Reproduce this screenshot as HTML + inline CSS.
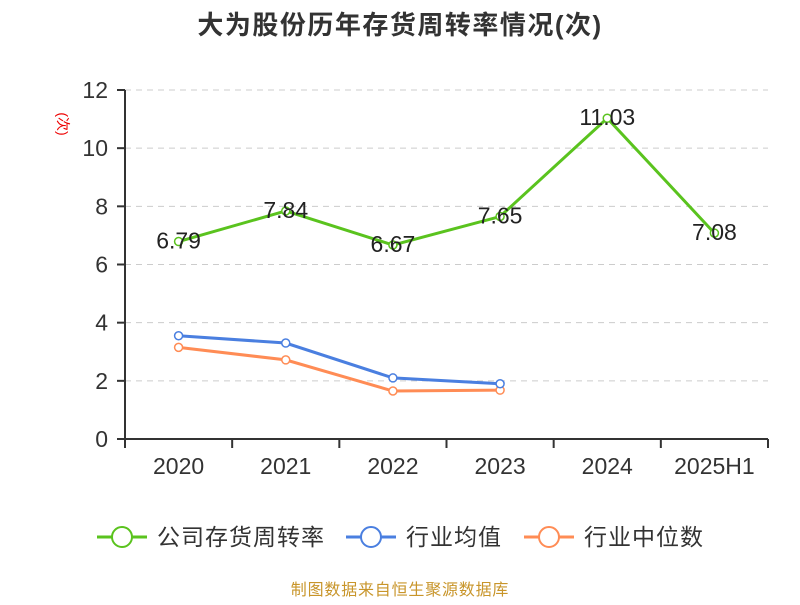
<!DOCTYPE html>
<html><head><meta charset="utf-8"><style>
body{margin:0;background:#fff;}
svg text{font-family:"Liberation Sans","Noto Sans CJK SC",sans-serif;}
</style></head><body>
<svg width="800" height="600" xmlns="http://www.w3.org/2000/svg" id="chart">
<text x="400" y="34" text-anchor="middle" font-size="26" font-weight="bold" letter-spacing="1.5" fill="#333">大为股份历年存货周转率情况(次)</text>
<text transform="translate(58,124) rotate(90)" text-anchor="middle" font-size="14" fill="#e00">(次)</text>
<g id="grid"></g><g id="axes"></g><g id="series"></g>
<g>
<g><line x1="97" y1="537" x2="147" y2="537" stroke="#5ac31e" stroke-width="3"/><circle cx="122" cy="537" r="10" fill="#fff" stroke="#5ac31e" stroke-width="2"/><text x="157" y="545" font-size="23" letter-spacing="1" fill="#333">公司存货周转率</text></g>
<g><line x1="346" y1="537" x2="396" y2="537" stroke="#4a7fe0" stroke-width="3"/><circle cx="371" cy="537" r="10" fill="#fff" stroke="#4a7fe0" stroke-width="2"/><text x="406" y="545" font-size="23" letter-spacing="1" fill="#333">行业均值</text></g>
<g><line x1="524" y1="537" x2="574" y2="537" stroke="#ff8c55" stroke-width="3"/><circle cx="549" cy="537" r="10" fill="#fff" stroke="#ff8c55" stroke-width="2"/><text x="584" y="545" font-size="23" letter-spacing="1" fill="#333">行业中位数</text></g>
</g>
<text x="400" y="595" text-anchor="middle" font-size="16" letter-spacing="0.8" fill="#c8952a">制图数据来自恒生聚源数据库</text>
</svg>
<script>
const categories=["2020","2021","2022","2023","2024","2025H1"];
const companyValues=[6.79,7.84,6.67,7.65,11.03,7.08];
const meanValues=[3.55,3.3,2.1,1.9];
const medianValues=[3.15,2.72,1.65,1.68];
const yTicks=[0,2,4,6,8,10,12];
const NS="http://www.w3.org/2000/svg";
const x0=125,x1=768,yTop=90,yBot=439,ymax=12;
const bw=(x1-x0)/categories.length;
const xs=i=>x0+bw*(i+0.5);
const ys=v=>yBot-(v/ymax)*(yBot-yTop);
function mk(t,a,p){const e=document.createElementNS(NS,t);for(const k in a)e.setAttribute(k,a[k]);p.appendChild(e);return e;}
const grid=document.getElementById('grid'),axes=document.getElementById('axes'),ser=document.getElementById('series');
yTicks.forEach(v=>{
 if(v>0){const g=mk('line',{x1:x0,x2:x1,y1:ys(v),y2:ys(v),stroke:'#ccc','stroke-dasharray':'6,5'},grid);
 
 }
 const t=mk('line',{x1:x0-8,x2:x0,y1:ys(v),y2:ys(v),stroke:'#333','stroke-width':2},axes);
 
 
 const l=mk('text',{x:x0-17,y:ys(v)+8,'text-anchor':'end','font-size':23,fill:'#333'},axes);l.textContent=v;
 
 
});
const ya=mk('line',{x1:x0,x2:x0,y1:yTop,y2:yBot+9,stroke:'#333','stroke-width':2},axes);


const xa=mk('line',{x1:x0-8,x2:x1,y1:yBot,y2:yBot,stroke:'#333','stroke-width':2},axes);


categories.forEach((c,i)=>{
 const tk=mk('line',{x1:x0+bw*(i+1),x2:x0+bw*(i+1),y1:yBot,y2:yBot+9,stroke:'#333','stroke-width':2},axes);
 
 
 const l=mk('text',{x:xs(i),y:474,'text-anchor':'middle','font-size':23,fill:'#333'},axes);l.textContent=c;
 
 
});
function series(vals,color,name,labels){
 const p=mk('polyline',{points:vals.map((v,i)=>xs(i)+','+ys(v)).join(' '),fill:'none',stroke:color,'stroke-width':3},ser);
 
 
 vals.forEach((v,i)=>{
  const c=mk('circle',{cx:xs(i),cy:ys(v),r:4,fill:'#fff',stroke:color,'stroke-width':1.5},ser);
  
  
  if(labels){const t=mk('text',{x:xs(i),y:ys(v)+7,'text-anchor':'middle','font-size':23,fill:'#222'},ser);t.textContent=v.toFixed(2);
  
  }
 });
}
series(medianValues,'#ff8c55','industry-median',false);
series(meanValues,'#4a7fe0','industry-mean',false);
series(companyValues,'#5ac31e','company',true);
</script>
</body></html>
